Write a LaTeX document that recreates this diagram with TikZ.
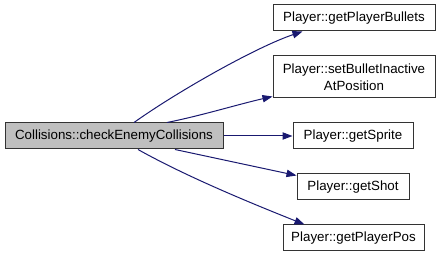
\documentclass[tikz,border=0pt]{standalone}
\usepackage{fontspec}
\setmainfont{Liberation Sans}
\usepackage{xcolor}
\usepackage{tikz}
\usetikzlibrary{arrows.meta}
\usetikzlibrary{calc}
\definecolor{edgeblue}{RGB}{25,25,112}
\definecolor{mainfill}{RGB}{191,191,191}

\begin{document}
\begin{tikzpicture}[x=0.75pt, y=-0.75pt]
      \tikzset{
        fn/.style={draw=black!80, fill=white, line width=0.75pt,
            font=\fontsize{10}{12.5}\selectfont, align=center,
            inner sep=0pt, minimum height=19.5pt},
        fn main/.style={fn, fill=mainfill},
        call/.style={draw=edgeblue, line width=0.75pt,
            -{Triangle[length=7.5pt, width=5.5pt]}}
      }

      \useasboundingbox (0,0) rectangle (440,256);

      % Caller
      \node[fn main, minimum width=163.5pt] (check) at (114,136) {Collisions::checkEnemyCollisions};

      % Callees
      \node[fn, minimum width=121.5pt] (bullets) at (354,18) {Player::getPlayerBullets};
      \node[fn, minimum width=121.5pt, minimum height=31.5pt] (inactive) at (354,77) {Player::setBulletInactive\\AtPosition};
      \node[fn, minimum width=90pt] (sprite) at (353,136) {Player::getSprite};
      \node[fn, minimum width=84pt] (shot) at (353,187) {Player::getShot};
      \node[fn, minimum width=105.75pt] (pos) at (353.5,238) {Player::getPlayerPos};

      % Calls
      \draw[call] ([xshift=15pt]check.north) .. controls +(45,-32) and +(-45,15) .. ([xshift=22.5pt]bullets.south west);
      \draw[call] ([xshift=39.75pt]check.north) .. controls +(35,-7) and +(-35,8) .. ([yshift=1.5pt]inactive.south west);
      \draw[call] (check.east) -- (sprite.west);
      \draw[call] ([xshift=45.75pt]check.south) -- ([yshift=-1.5pt]shot.north west);
      \draw[call] ([xshift=18pt]check.south) .. controls +(50,28) and +(-50,-20) .. ([xshift=16.5pt]pos.north west);
    \end{tikzpicture}
\end{document}
